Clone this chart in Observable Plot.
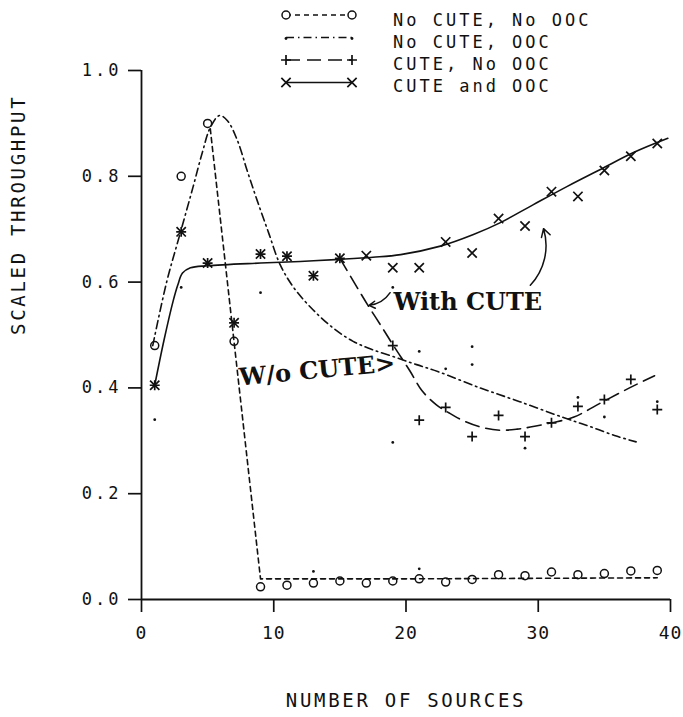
<!DOCTYPE html>
<html>
<head>
<meta charset="utf-8">
<script src="https://cdn.jsdelivr.net/npm/d3@7"></script>
<script src="https://cdn.jsdelivr.net/npm/@observablehq/plot@0.6"></script>
<style>
  body { margin: 0; background: #fff; }
  #wrap { position: relative; width: 683px; height: 717px; background: #fff; }
  #wrap svg text { letter-spacing: 3px; }
  #wrap svg g[font-family="DejaVu Serif"] text { letter-spacing: 0px; }
  #wrap svg g[font-size="19"] text { letter-spacing: 2.7px; }
  #wrap svg g[font-size="18"] text { letter-spacing: 1px; }
  #legend text { letter-spacing: 2.2px; }
</style>
</head>
<body>
<div id="wrap"></div>
<script>
// ---------- data ----------
const sources = [1,3,5,7,9,11,13,15,17,19,21,23,25,27,29,31,33,35,37,39];
const noCuteNoOoc = [0.48,0.80,0.90,0.488,0.024,0.027,0.031,0.035,0.031,0.035,0.039,0.033,0.038,0.047,0.045,0.052,0.047,0.049,0.054,0.055];
const cuteAndOoc  = [0.405,0.695,0.636,0.523,0.653,0.649,0.612,0.645,0.650,0.627,0.627,0.676,0.655,0.720,0.706,0.771,0.762,0.811,0.838,0.862];
const cuteNoOocX  = [1,3,5,7,9,11,13,15,19,21,23,25,27,29,31,33,35,37,39];
const cuteNoOoc   = [0.405,0.695,0.636,0.523,0.653,0.649,0.612,0.645,0.48,0.339,0.363,0.308,0.348,0.308,0.334,0.365,0.378,0.416,0.359];
const noCuteOocX  = [1,3,9,13,19,19,21,21,23,25,25,29,33,35,39];
const noCuteOoc   = [0.34,0.59,0.58,0.053,0.59,0.297,0.469,0.058,0.436,0.444,0.478,0.286,0.382,0.345,0.374];

// fitted curves
const fitNoCuteNoOocX = [5.2, 9.0, 20, 39];
const fitNoCuteNoOocY = [0.89, 0.039, 0.039, 0.041];
const fitNoCuteOocX = [0.85,1.9,2.9,3.9,4.6,5.2,5.9,6.5,7.25,8.0,8.75,9.6,10.5,11.5,12.8,14.4,16.0,17.5,19.3,20.8,22.4,25.6,28.6,31.9,33.9,35.9,37.4];
const fitNoCuteOocY = [0.48,0.60,0.69,0.78,0.845,0.892,0.915,0.905,0.868,0.81,0.754,0.694,0.632,0.59,0.552,0.515,0.488,0.472,0.457,0.444,0.431,0.40,0.374,0.344,0.327,0.309,0.298];
const fitCuteNoOocX = [15,16.3,17.1,18.3,19.1,20.3,21.2,22.3,23.3,24.5,25.8,27.1,28.4,29.4,31,32.7,34.9,36.9,38.8];
const fitCuteNoOocY = [0.645,0.59,0.557,0.51,0.478,0.432,0.395,0.368,0.352,0.336,0.325,0.32,0.322,0.326,0.334,0.345,0.374,0.40,0.423];
const fitCuteOocX = [1.0,1.7,2.4,2.75,3.1,3.7,5,9,12,15,17.5,19.6,22.6,25.1,27.1,29.6,32.2,34.7,37.2,39.8];
const fitCuteOocY = [0.405,0.49,0.565,0.595,0.617,0.627,0.631,0.636,0.639,0.643,0.647,0.652,0.668,0.69,0.712,0.746,0.781,0.813,0.845,0.872];

const yTicks = [0, 0.2, 0.4, 0.6, 0.8, 1.0];
const xTicks = [0, 10, 20, 30, 40];
const legendLabels = ["No CUTE, No OOC", "No CUTE, OOC", "CUTE, No OOC", "CUTE and OOC"];
const xTitle = "NUMBER OF SOURCES";
const yTitle = "SCALED THROUGHPUT";

// annotations (data coordinates)
const noteText = ["With CUTE", "W/o CUTE>"];
const noteX = [19.05, 7.4];
const noteY = [0.5625, 0.419];
const arrowX1 = [29.4, 18.8];
const arrowY1 = [0.594, 0.580];
const arrowX2 = [30.4, 17.2];
const arrowY2 = [0.701, 0.556];

// ---------- build tables ----------
const zip = (xs, ys) => xs.map((x, i) => ({x, y: ys[i]}));
const ink = "#111";

const lineStyles = [
  {dash: "5,4"},
  {dash: "8,4,1.5,4"},
  {dash: "14,7"},
  {dash: null}
];

const chart = Plot.plot({
  width: 683,
  height: 717,
  marginLeft: 141,
  marginRight: 13,
  marginTop: 70,
  marginBottom: 118,
  x: {domain: [0, 40]},
  y: {domain: [0, 1]},
  style: {fontFamily: "DejaVu Sans Mono", fontSize: "17px", color: ink, background: "#fff"},
  marks: [
    Plot.axisY({ticks: yTicks, tickFormat: d3.format(".1f"), tickSize: 13, tickPadding: 7, label: null, strokeWidth: 1.7}),
    Plot.axisX({ticks: xTicks, tickSize: 13, tickPadding: 14, label: null, strokeWidth: 1.7, fontSize: 18}),
    Plot.ruleX([0], {y1: 0, y2: 1, stroke: ink, strokeWidth: 1.8}),
    Plot.ruleY([0], {stroke: ink, strokeWidth: 1.8}),
    // curves
    Plot.line(zip(fitNoCuteNoOocX, fitNoCuteNoOocY), {x: "x", y: "y", stroke: ink, strokeWidth: 1.6, strokeDasharray: lineStyles[0].dash}),
    Plot.line(zip(fitNoCuteOocX, fitNoCuteOocY), {x: "x", y: "y", curve: "catmull-rom", stroke: ink, strokeWidth: 1.6, strokeDasharray: lineStyles[1].dash}),
    Plot.line(zip(fitCuteNoOocX, fitCuteNoOocY), {x: "x", y: "y", curve: "catmull-rom", stroke: ink, strokeWidth: 1.6, strokeDasharray: lineStyles[2].dash}),
    Plot.line(zip(fitCuteOocX, fitCuteOocY), {x: "x", y: "y", curve: "catmull-rom", stroke: ink, strokeWidth: 1.6}),
    // markers
    Plot.dot(zip(sources, noCuteNoOoc), {x: "x", y: "y", r: 4, stroke: ink, strokeWidth: 1.5, fill: "none"}),
    Plot.dot(zip(noCuteOocX, noCuteOoc), {x: "x", y: "y", r: 1.4, fill: ink, stroke: null}),
    Plot.dot(zip(cuteNoOocX, cuteNoOoc), {x: "x", y: "y", symbol: "plus", r: 3.3, stroke: ink, strokeWidth: 1.7}),
    Plot.dot(zip(sources, cuteAndOoc), {x: "x", y: "y", symbol: "times", r: 4.3, stroke: ink, strokeWidth: 1.7}),
    // annotations
    Plot.text([0], {x: () => noteX[0], y: () => noteY[0], text: () => noteText[0], textAnchor: "start", fontFamily: "DejaVu Serif", fontWeight: "bold", fontSize: 24, fill: ink}),
    Plot.text([0], {x: () => noteX[1], y: () => noteY[1], text: () => noteText[1], textAnchor: "start", fontFamily: "DejaVu Serif", fontWeight: "bold", fontSize: 24, rotate: -5.4, fill: ink}),
    Plot.arrow([0], {x1: () => arrowX1[0], y1: () => arrowY1[0], x2: () => arrowX2[0], y2: () => arrowY2[0], bend: -30, headLength: 9, stroke: ink, strokeWidth: 1.5}),
    Plot.arrow([0], {x1: () => arrowX1[1], y1: () => arrowY1[1], x2: () => arrowX2[1], y2: () => arrowY2[1], bend: 25, headLength: 7, stroke: ink, strokeWidth: 1.5}),
    // axis titles
    Plot.text([yTitle], {frameAnchor: "left", dx: -123, rotate: -90, fontSize: 19, fill: ink}),
    Plot.text([xTitle], {frameAnchor: "bottom", dy: 107, fontSize: 19, fill: ink})
  ]
});

const wrap = document.getElementById("wrap");
wrap.appendChild(chart);

// ---------- legend (overlay above the plot) ----------
const lg = d3.create("svg")
  .attr("id", "legend")
  .attr("width", 683).attr("height", 100)
  .style("position", "absolute").style("left", "0px").style("top", "0px");

const symPath = (type, r) => d3.symbol().type(type).size(Math.PI * r * r)();
legendLabels.forEach((lab, i) => {
  const ly = 15 + 22.5 * i;
  const ty = 20 + 22 * i;
  const g = lg.append("g");
  g.append("line").attr("x1", 286).attr("x2", 352).attr("y1", ly).attr("y2", ly)
    .attr("stroke", ink).attr("stroke-width", 1.6)
    .attr("stroke-dasharray", lineStyles[i].dash);
  [286, 352].forEach(mx => {
    if (i === 0) g.append("circle").attr("cx", mx).attr("cy", ly).attr("r", 4).attr("fill", "#fff").attr("stroke", ink).attr("stroke-width", 1.5);
    if (i === 1) g.append("circle").attr("cx", mx).attr("cy", ly + 1).attr("r", 1.4).attr("fill", ink);
    if (i === 2) g.append("path").attr("d", symPath(d3.symbolPlus, 3.3)).attr("transform", `translate(${mx},${ly})`).attr("fill", "none").attr("stroke", ink).attr("stroke-width", 1.7);
    if (i === 3) g.append("path").attr("d", symPath(d3.symbolTimes, 4.3)).attr("transform", `translate(${mx},${ly})`).attr("fill", "none").attr("stroke", ink).attr("stroke-width", 1.7);
  });
  g.append("text").attr("x", 393).attr("y", ty).attr("dy", "0.35em")
    .attr("font-family", "DejaVu Sans Mono").attr("font-size", 17).attr("fill", ink)
    .text(lab);
});
wrap.appendChild(lg.node());
</script>
</body>
</html>
